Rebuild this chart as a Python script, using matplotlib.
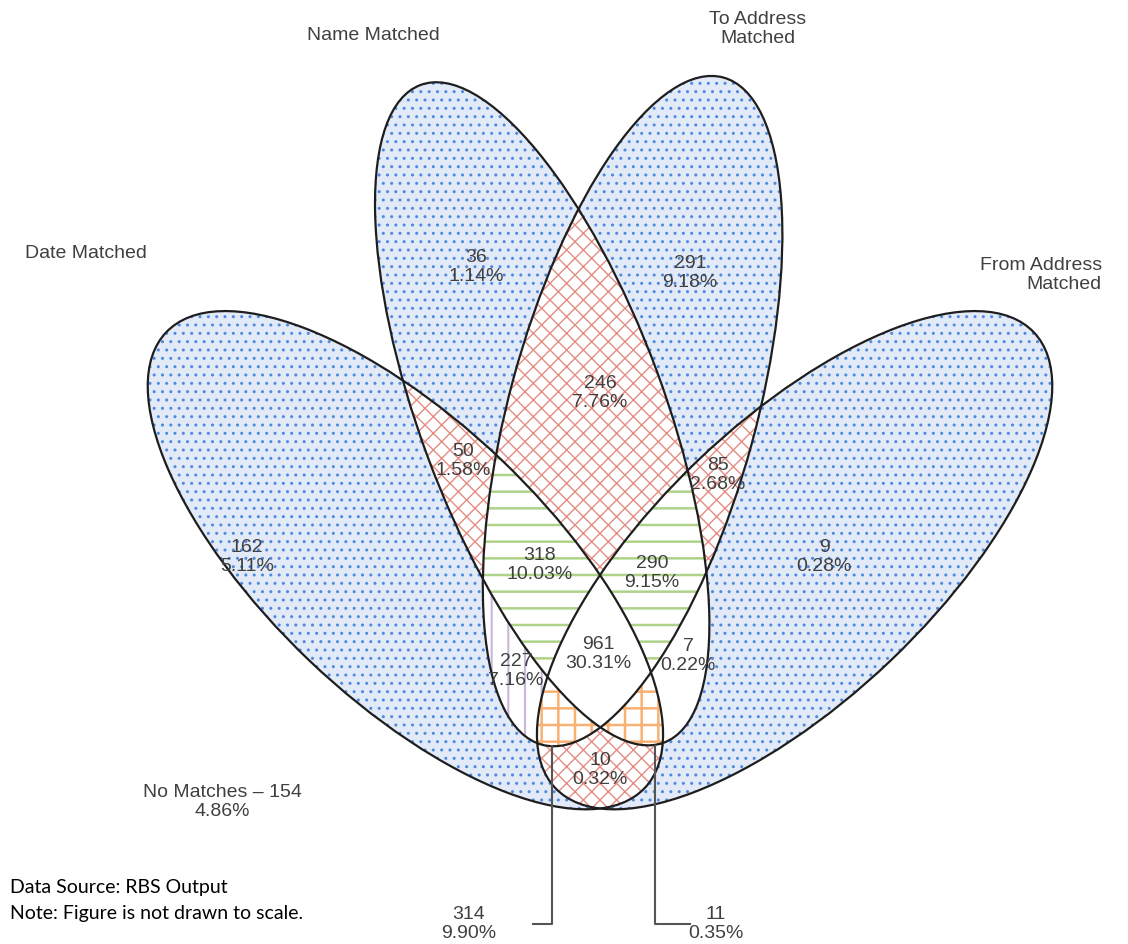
import numpy as np
import matplotlib.pyplot as plt
from matplotlib.patches import Ellipse, PathPatch

# sets: Date, Name, To Address, From Address
set_names = ["Date Matched", "Name Matched", "To Address\nMatched", "From Address\nMatched"]

# membership of each region (D, N, T, F) and its count
region_sets = [(1, 0, 0, 0), (0, 1, 0, 0), (0, 0, 1, 0), (0, 0, 0, 1),
               (1, 1, 0, 0), (0, 1, 1, 0), (0, 0, 1, 1), (1, 0, 0, 1),
               (1, 0, 1, 0), (0, 1, 0, 1),
               (1, 1, 1, 0), (0, 1, 1, 1), (1, 0, 1, 1), (1, 1, 0, 1),
               (1, 1, 1, 1)]
region_counts = [162, 36, 291, 9, 50, 246, 85, 10, 227, 7, 318, 290, 314, 11, 961]
no_match_count = 154
total = sum(region_counts) + no_match_count

# ellipse layout in pixels: centre x, centre y, semi-major, semi-minor, angle
ellipses = [(405.4, 561.2, 330.4, 138.9, 43.62),    # Date
            (542.2, 414.8, 350.6, 122.3, 69.70),    # Name
            (632.6, 412.1, 345.7, 123.5, 105.22),   # To Address
            (794.6, 561.2, 330.4, 138.9, 136.38)]   # From Address

styles = {
    "blue": dict(facecolor="#e2eaf7", hatch="..", hc="#4f8ae0", lw=1.0),
    "red": dict(facecolor="white", hatch="xx", hc="#e38d84", lw=1.0),
    "green": dict(facecolor="white", hatch="-", hc="#afd28a", lw=1.8),
    "orange": dict(facecolor="white", hatch="+", hc="#f9b173", lw=1.8),
    "purple": dict(facecolor="white", hatch="|", hc="#c9b6de", lw=1.5),
    "white": dict(facecolor="white", hatch=None, hc="white", lw=1.0),
}
region_style = ["blue", "blue", "blue", "blue", "red", "red", "red", "red",
                "purple", "white", "green", "green", "orange", "orange", "white"]
label_pos = [(247, 557), (476, 267), (690, 273), (824, 557), (463, 461), (600, 393),
             (718, 475), (600, 770), (516, 671), (688, 656), (540, 565), (652, 573),
             (469, 924), (716, 924), (598, 654)]

fig = plt.figure(figsize=(11.28, 9.45), dpi=100)
ax = fig.add_axes([0, 0, 1, 1])
ax.set_xlim(0, 1128)
ax.set_ylim(945, 0)
ax.axis("off")

X, Y = np.meshgrid(np.arange(0, 1129, 1.0), np.arange(0, 946, 1.0))


def inside(e):
    # positive inside the ellipse, negative outside
    cx, cy, a, b, ang = e
    t = np.radians(ang)
    u = (X - cx) * np.cos(t) + (Y - cy) * np.sin(t)
    v = -(X - cx) * np.sin(t) + (Y - cy) * np.cos(t)
    return 1 - (u / a) ** 2 - (v / b) ** 2


G = [inside(e) for e in ellipses]

for members, style in zip(region_sets, region_style):
    field = np.min([g if m else -g for g, m in zip(G, members)], axis=0)
    cs = ax.contourf(X, Y, field, levels=[0, 5])
    path = cs.get_paths()[0]
    cs.remove()
    st = styles[style]
    with plt.rc_context({"hatch.linewidth": st["lw"]}):
        patch = PathPatch(path, facecolor=st["facecolor"], edgecolor=st["hc"],
                          hatch=st["hatch"], linewidth=0, zorder=1)
    if hasattr(patch, "set_hatch_linewidth"):
        patch.set_hatch_linewidth(st["lw"])
    ax.add_patch(patch)

for cx, cy, a, b, ang in ellipses:
    ax.add_patch(Ellipse((cx, cy), 2 * a, 2 * b, angle=ang, fill=False,
                         edgecolor="#1e1e1e", linewidth=1.6, zorder=3))

txt = dict(fontsize=14, color="#404040", family="Liberation Sans", ha="center",
           va="center", linespacing=1.15, zorder=4)
for (x, y), n in zip(label_pos, region_counts):
    ax.text(x, y, f"{n}\n{100 * n / total:.2f}%", **txt)

ax.text(222, 802, f"No Matches \u2013 {no_match_count}\n{100 * no_match_count / total:.2f}%", **txt)

ax.text(373, 35, set_names[1], **txt)
ax.text(758, 29, set_names[2], **txt)
ax.text(86, 253, set_names[0], **txt)
ax.text(1102, 275, set_names[3], **{**txt, "ha": "right"})

# leader lines for the two small bottom regions
ax.plot([533, 552, 552], [925, 925, 747], color="#555555", lw=1.5, zorder=3)
ax.plot([690, 655, 655], [925, 925, 747], color="#555555", lw=1.5, zorder=3)

ax.text(10, 888, "Data Source: RBS Output", fontsize=14, family="Lato", color="black",
        va="center")
ax.text(10, 913, "Note: Figure is not drawn to scale.", fontsize=14, family="Lato",
        color="black", va="center")

fig.savefig("out.png", dpi=100)
